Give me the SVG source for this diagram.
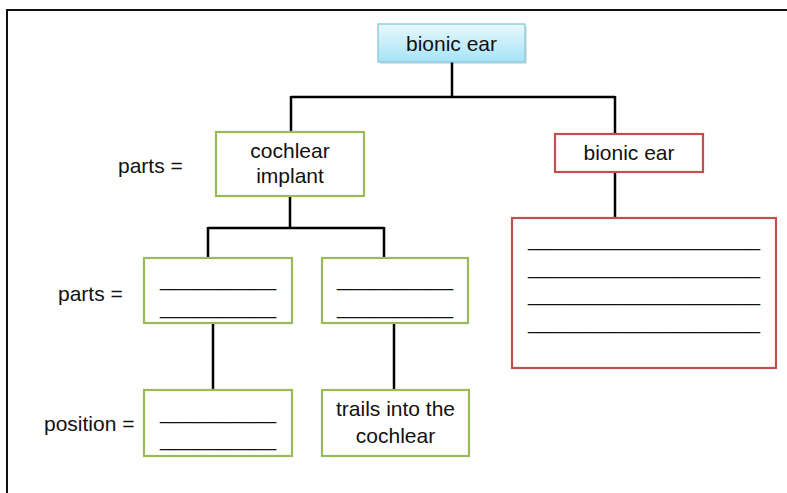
<svg xmlns="http://www.w3.org/2000/svg" width="787" height="493" viewBox="0 0 787 493">
  <defs>
    <linearGradient id="blueFill" x1="0" y1="0" x2="0" y2="1">
      <stop offset="0" stop-color="#e9f8fd"/>
      <stop offset="1" stop-color="#a6e3f6"/>
    </linearGradient>
  </defs>
  <style>
    text { font-family: "Liberation Sans", Arial, sans-serif; font-size: 21px; fill: #111; }
    .mid { text-anchor: middle; }
    .rule { font-size: 22px; }
    .green { fill: #fff; stroke: #9bbb59; stroke-width: 2.2; }
    .red { fill: #fff; stroke: #c0504d; stroke-width: 2.2; }
    .blue { fill: url(#blueFill); stroke: #7ec6d8; stroke-width: 1.2; }
    .link { fill: none; stroke: #000; stroke-width: 2.5; }
    .frame { fill: none; stroke: #111; stroke-width: 2; }
  </style>

  <!-- page frame -->
  <rect class="frame" x="7" y="10" width="800" height="500"/>

  <!-- connectors -->
  <g id="connectors">
    <path class="link" d="M452 62 V97 M291 97 H615 M291 96 V132 M615 96 V134"/>
    <path class="link" d="M615 172 V218"/>
    <path class="link" d="M290 196 V228 M208 228 H384 M208 227 V258 M384 227 V258"/>
    <path class="link" d="M213 323 V390 M394 323 V390"/>
  </g>

  <!-- row labels -->
  <g id="labels">
    <text x="118" y="173">parts =</text>
    <text x="58" y="301">parts =</text>
    <text x="44" y="431">position =</text>
  </g>

  <g id="root">
    <rect x="380" y="26" width="147" height="38" fill="#000" opacity="0.12"/>
    <rect class="blue" x="378" y="24" width="147" height="38"/>
    <text class="mid" x="451.5" y="51">bionic ear</text>
  </g>

  <g id="cochlear-implant">
    <rect class="green" x="216" y="132" width="148" height="64"/>
    <text class="mid" x="290" y="158">cochlear</text>
    <text class="mid" x="290" y="183">implant</text>
  </g>

  <g id="bionic-ear">
    <rect class="red" x="555" y="134" width="148" height="38"/>
    <text class="mid" x="629" y="160">bionic ear</text>
  </g>

  <g id="bionic-ear-notes">
    <rect class="red" x="512" y="218" width="264" height="150"/>
    <text class="rule" x="528" y="246" textLength="232" lengthAdjust="spacingAndGlyphs">_____________________</text>
    <text class="rule" x="528" y="274" textLength="232" lengthAdjust="spacingAndGlyphs">_____________________</text>
    <text class="rule" x="528" y="301" textLength="232" lengthAdjust="spacingAndGlyphs">_____________________</text>
    <text class="rule" x="528" y="329" textLength="232" lengthAdjust="spacingAndGlyphs">_____________________</text>
  </g>

  <g id="part-a">
    <rect class="green" x="144" y="258" width="148" height="65"/>
    <text class="rule" x="160" y="286" textLength="116" lengthAdjust="spacingAndGlyphs">__________</text>
    <text class="rule" x="160" y="314" textLength="116" lengthAdjust="spacingAndGlyphs">__________</text>
  </g>

  <g id="part-b">
    <rect class="green" x="322" y="258" width="146" height="65"/>
    <text class="rule" x="337" y="286" textLength="116" lengthAdjust="spacingAndGlyphs">__________</text>
    <text class="rule" x="337" y="314" textLength="116" lengthAdjust="spacingAndGlyphs">__________</text>
  </g>

  <g id="position-a">
    <rect class="green" x="144" y="390" width="148" height="66"/>
    <text class="rule" x="160" y="419" textLength="116" lengthAdjust="spacingAndGlyphs">__________</text>
    <text class="rule" x="160" y="446" textLength="116" lengthAdjust="spacingAndGlyphs">__________</text>
  </g>

  <g id="position-b">
    <rect class="green" x="322" y="390" width="147" height="66"/>
    <text class="mid" x="395.5" y="416">trails into the</text>
    <text class="mid" x="395.5" y="443">cochlear</text>
  </g>
</svg>
